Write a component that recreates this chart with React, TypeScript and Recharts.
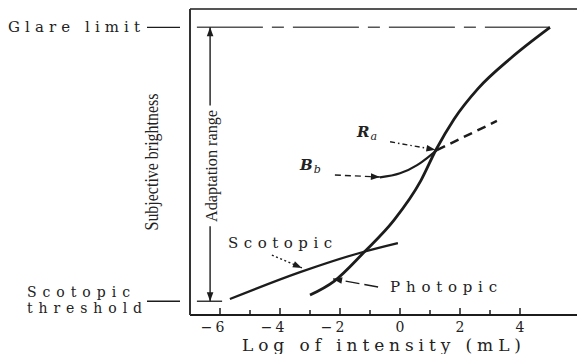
import React from "react";
import { LineChart, Line, XAxis, YAxis, ReferenceLine, ReferenceDot } from "recharts";

const ink = "#1c1c1c";
const serif = "'DejaVu Serif', 'Liberation Serif', serif";
const times = "'Liberation Serif', 'DejaVu Serif', serif";

// levels on the brightness axis
const glareLevel = 94;
const thresholdLevel = 4.5;

const xTicks = [-6, -5, -4, -3, -2, -1, 0, 1, 2, 3, 4];

const photopicX = [-3, -2.2, -1.2, -0.2, 0.7, 1.2, 1.8, 2.6, 3.7, 5];
const photopicY = [6.5, 11, 20.5, 31, 44, 54, 64, 74, 84, 94];

const scotopicX = [-5.67, -3.33, -1.23, -0.07];
const scotopicY = [5.2, 14, 20.6, 23.5];

// adapted curve B_b (solid) and its dashed continuation
const bbX = [-0.67, 0, 0.57, 0.9, 1.23];
const bbY = [45, 46.3, 49, 51.3, 53.9];
const extX = [1.23, 3.23];
const extY = [53.9, 63.4];

const zip = (xs: number[], ys: number[]) => xs.map((x, i) => ({ x, y: ys[i] }));

// annotation arrows (from -> to, head at "to")
const arrows = [
  { id: "adaptUp", from: [-6.33, 68.5], to: [-6.33, glareLevel], dash: undefined },
  { id: "adaptDown", from: [-6.33, 29], to: [-6.33, thresholdLevel], dash: undefined },
  { id: "ra", from: [-0.33, 56.6], to: [1.18, 54], dash: "5 3 1.5 3" },
  { id: "bb", from: [-2.17, 45.75], to: [-0.67, 45.1], dash: "6 4" },
  { id: "scot", from: [-4.27, 19.6], to: [-3.27, 15.4], dash: "2 2.5" },
  { id: "phot", from: [-0.73, 9.15], to: [-2.23, 11.8], dash: "14 5" },
];

function makeHead() {
  let tail: { x: number; y: number } | null = null;
  return (p: any) => {
    const { cx, cy, index } = p;
    if (index === 0) {
      tail = { x: cx, y: cy };
      return <g key={`h${index}`} />;
    }
    const from = p.points && p.points.length > 1 ? p.points[0] : tail;
    const ang = from ? Math.atan2(cy - from.y, cx - from.x) : 0;
    const L = 9;
    const W = 3.3;
    const c = Math.cos(ang);
    const s = Math.sin(ang);
    const bx = cx - L * c;
    const by = cy - L * s;
    const pts = `${cx},${cy} ${bx - W * s},${by + W * c} ${bx + W * s},${by - W * c}`;
    return <polygon key={`h${index}`} points={pts} fill={ink} stroke="none" />;
  };
}

const XTick = ({ x, y, payload }: any) => {
  const v = payload.value;
  const major = v % 2 === 0;
  return (
    <g>
      <line x1={x} x2={x} y1={y} y2={y - (major ? 7 : 5)} stroke={ink} strokeWidth={1.5} />
      {major && (
        <text
          x={v < 0 ? x + 7.5 : x}
          y={y + 17}
          textAnchor={v < 0 ? "end" : "middle"}
          fontFamily={serif}
          fontSize={14}
          letterSpacing={v < 0 ? 3 : 0}
          fill="#222"
        >
          {v < 0 ? `\u2212${-v}` : v}
        </text>
      )}
    </g>
  );
};

const LevelTick = ({ x, y, payload }: any) => {
  const isGlare = payload.value === glareLevel;
  return (
    <g>
      <line x1={x - 43} x2={x - 10} y1={y} y2={y} stroke={ink} strokeWidth={1.3} />
      {isGlare ? (
        <text x={x - 182} y={y + 5} fontFamily={serif} fontSize={15} fill="#222"
          textLength={132} lengthAdjust="spacing">
          Glare limit
        </text>
      ) : (
        <g fontFamily={serif} fontSize={14} fill="#222">
          <text x={x - 163} y={y - 4} textLength={103} lengthAdjust="spacing">Scotopic</text>
          <text x={x - 163} y={y + 12} textLength={115} lengthAdjust="spacing">threshold</text>
        </g>
      )}
    </g>
  );
};

const YTitle = ({ viewBox }: any) => {
  const vb = viewBox || { x: 0, y: 9, width: 190, height: 306 };
  const cx = vb.x + vb.width - 38;
  const cy = vb.y + vb.height / 2;
  return (
    <text transform={`translate(${cx},${cy}) rotate(-90)`} textAnchor="middle" dominantBaseline="central"
      fontFamily={times} fontSize={18} fill="#222" textLength={137} lengthAdjust="spacingAndGlyphs">
      Subjective brightness
    </text>
  );
};

const XTitle = ({ viewBox }: any) => {
  const vb = viewBox || { x: 190, y: 315, width: 387, height: 39 };
  return (
    <text x={vb.x + vb.width / 2 - 2} y={vb.y + 36} textAnchor="middle" fontFamily={serif} fontSize={17}
      fill="#222" textLength={279} lengthAdjust="spacing">
      Log of intensity (mL)
    </text>
  );
};

const plainNote = (text: string, width: number) => ({ cx, cy }: any) => (
  <text x={cx} y={cy} fontFamily={serif} fontSize={15} fill="#222" textLength={width} lengthAdjust="spacing">
    {text}
  </text>
);

const subNote = (main: string, sub: string) => ({ cx, cy }: any) => (
  <text x={cx} y={cy} fontFamily={serif} fontStyle="italic" fontWeight="bold" fontSize={15} fill="#222">
    {main}
    <tspan fontSize={11} fontWeight="normal" dy={3} dx={1}>{sub}</tspan>
  </text>
);

const adaptNote = ({ cx, cy }: any) => (
  <text transform={`translate(${cx},${cy}) rotate(-90)`} textAnchor="middle" dominantBaseline="central"
    fontFamily={times} fontSize={17} fill="#222" textLength={112} lengthAdjust="spacingAndGlyphs">
    Adaptation range
  </text>
);

export default function App() {
  return (
    <div style={{ position: "absolute", left: 0, top: 0, width: 577, height: 354, background: "#fff", overflow: "hidden" }}>
      <LineChart width={577} height={354} margin={{ top: 9, right: 0, bottom: 0, left: 0 }}>
        <XAxis
          type="number"
          dataKey="x"
          domain={[-7, 5.9]}
          allowDataOverflow
          ticks={xTicks}
          interval={0}
          tickSize={0}
          tickMargin={0}
          height={39}
          tick={<XTick />}
          axisLine={{ stroke: ink, strokeWidth: 2 }}
          label={<XTitle />}
        />
        <YAxis
          type="number"
          dataKey="y"
          domain={[0, 100]}
          allowDataOverflow
          ticks={[thresholdLevel, glareLevel]}
          interval={0}
          tickSize={0}
          tickMargin={0}
          width={190}
          tick={<LevelTick />}
          axisLine={{ stroke: "#333", strokeWidth: 2 }}
          label={<YTitle />}
        />
        <ReferenceLine y={100} stroke="#555" strokeWidth={2} />
        <ReferenceLine
          segment={[{ x: -6.77, y: glareLevel }, { x: 5, y: glareLevel }]}
          stroke="#555"
          strokeWidth={1.5}
          strokeDasharray="66 9 12 9"
        />
        <ReferenceLine
          segment={[{ x: -6.77, y: thresholdLevel }, { x: -5.93, y: thresholdLevel }]}
          stroke={ink}
          strokeWidth={1.3}
        />

        <Line data={zip(scotopicX, scotopicY)} dataKey="y" type="monotone" stroke={ink} strokeWidth={2.2}
          dot={false} activeDot={false} isAnimationActive={false} />
        <Line data={zip(photopicX, photopicY)} dataKey="y" type="monotone" stroke={ink} strokeWidth={2.8}
          dot={false} activeDot={false} isAnimationActive={false} />
        <Line data={zip(bbX, bbY)} dataKey="y" type="monotone" stroke={ink} strokeWidth={2.2}
          dot={false} activeDot={false} isAnimationActive={false} />
        <Line data={zip(extX, extY)} dataKey="y" type="linear" stroke={ink} strokeWidth={2.5}
          strokeDasharray="9 6" dot={false} activeDot={false} isAnimationActive={false} />

        {arrows.map((a) => (
          <Line
            key={a.id}
            data={[{ x: a.from[0], y: a.from[1] }, { x: a.to[0], y: a.to[1] }]}
            dataKey="y"
            type="linear"
            stroke={ink}
            strokeWidth={1.4}
            strokeDasharray={a.dash}
            dot={makeHead()}
            activeDot={false}
            isAnimationActive={false}
          />
        ))}

        <ReferenceDot x={-6.27} y={48.7} shape={adaptNote} />
        <ReferenceDot x={-5.73} y={21.9} shape={plainNote("Scotopic", 104)} />
        <ReferenceDot x={-0.33} y={7.5} shape={plainNote("Photopic", 107)} />
        <ReferenceDot x={-1.43} y={58.2} shape={subNote("R", "a")} />
        <ReferenceDot x={-3.33} y={47.4} shape={subNote("B", "b")} />
      </LineChart>
    </div>
  );
}
